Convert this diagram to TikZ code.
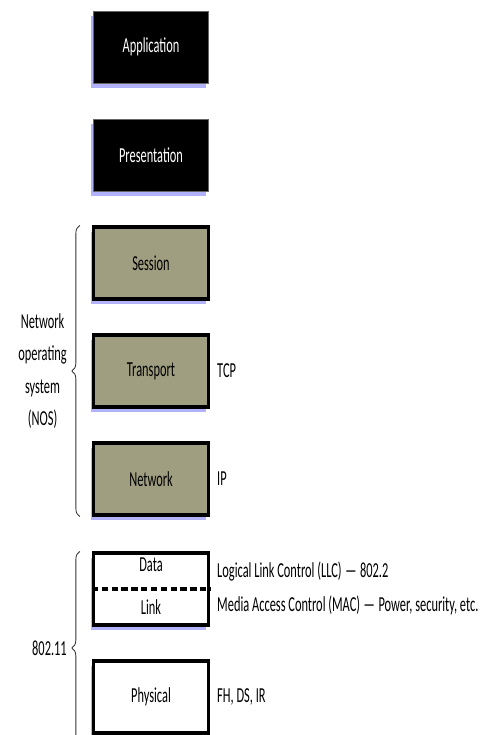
\documentclass[tikz,border=0pt]{standalone}
\usepackage{fontspec}
\setmainfont{Carlito}[FakeStretch=0.58]
\usetikzlibrary{positioning,shadows,decorations.pathreplacing}
\definecolor{nosfill}{RGB}{160,158,128}
\definecolor{shade}{RGB}{178,178,250}

\begin{document}
\begin{tikzpicture}[
    font=\fontsize{15.2}{23}\selectfont,
    layer/.style={minimum width=28.8mm, minimum height=18mm, align=center,
      drop shadow={shadow xshift=-0.07cm, shadow yshift=-0.13cm, fill=shade, opacity=1}},
    upper/.style={layer, fill=black, draw=black!60, thin, text=white},
    nos/.style={layer, fill=nosfill, draw=black, line width=2.2pt},
    wifi/.style={layer, fill=white, draw=black, line width=2.2pt},
    side/.style={anchor=west, inner sep=2pt},
    divider/.style={line width=2.5pt, dash pattern=on 4.5pt off 2.5pt},
    brace/.style={decorate, decoration={brace, amplitude=0.2cm}, line width=0.6pt, draw=black!80},
    bracelbl/.style={anchor=east, align=center, xshift=-0.2cm}
  ]
  \useasboundingbox (0,0) rectangle (12.125,18.375);

  % Upper layers
  \node[upper] (app) at (3.775,17.2) {Application};
  \node[upper] (pres) at (3.775,14.5) {Presentation};

  % Network operating system
  \node[nos] (sess) at (3.775,11.8) {Session};
  \node[nos] (trans) at (3.775,9.1) {Transport};
  \node[nos] (net) at (3.775,6.4) {Network};
  \node[side, right=0.1cm of trans] (tcp) {TCP};
  \node[side, right=0.1cm of net] (ip) {IP};
  \draw[brace] ([xshift=-0.3cm]net.south west) -- ([xshift=-0.3cm]sess.north west)
    node[midway, bracelbl] (noslbl) {Network\\operating\\system\\(NOS)};

  % 802.11 layers
  \node[wifi] (dlink) at (3.775,3.65) {};
  \node (data) at ([yshift=0.6cm]dlink.center) {Data};
  \node (link) at ([yshift=-0.45cm]dlink.center) {Link};
  \draw[divider] (dlink.west) -- (dlink.east);
  \node[wifi] (phys) at (3.775,0.95) {Physical};
  \node[side] (llc) at ([xshift=0.1cm,yshift=0.43cm]dlink.east) {Logical Link Control (LLC)\,—\,802.2};
  \node[side] (mac) at ([xshift=0.1cm,yshift=-0.4cm]dlink.east) {Media Access Control (MAC)\,—\,Power, security, etc.};
  \node[side, right=0.1cm of phys] (fh) {FH, DS, IR};
  \draw[brace] ([xshift=-0.3cm,yshift=-0.25cm]phys.south west) -- ([xshift=-0.3cm]dlink.north west)
    node[midway, bracelbl] (wifilbl) {802.11};

\end{tikzpicture}
\end{document}
